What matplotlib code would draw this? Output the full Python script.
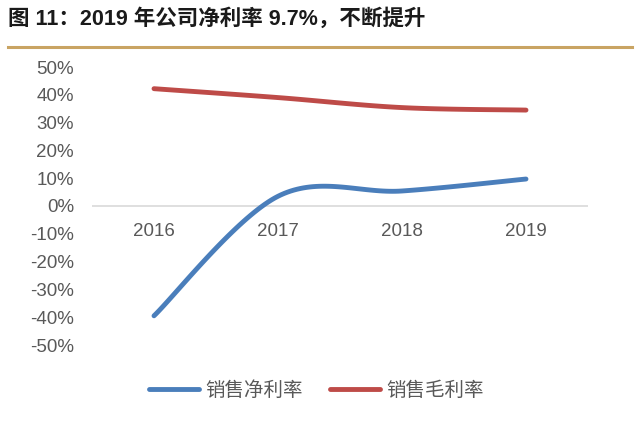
import numpy as np
import matplotlib
matplotlib.use("Agg")
import matplotlib.pyplot as plt
from matplotlib.lines import Line2D

plt.rcParams['font.family'] = ['Liberation Sans', 'Noto Sans CJK SC', 'DejaVu Sans']

years = ["2016", "2017", "2018", "2019"]
net_margin = [-39.5, 3.5, 5.4, 9.7]
gross_margin = [42.2, 39.0, 35.4, 34.5]
series_names = ["销售净利率", "销售毛利率"]
yticks = [-50, -40, -30, -20, -10, 0, 10, 20, 30, 40, 50]

blue = "#4A7EBB"
red = "#BE4B48"
gold = "#C9A463"
txt = "#595959"


def smooth(x, y, n=40):
    # excel-like smoothed line: cubic bezier with catmull-rom control points
    x = np.asarray(x, float)
    y = np.asarray(y, float)
    px, py = [], []
    for i in range(len(x) - 1):
        x0, y0 = (x[i - 1], y[i - 1]) if i > 0 else (x[i], y[i])
        x3, y3 = (x[i + 2], y[i + 2]) if i + 2 < len(x) else (x[i + 1], y[i + 1])
        c1x = x[i] + (x[i + 1] - x0) / 6
        c1y = y[i] + (y[i + 1] - y0) / 6
        c2x = x[i + 1] - (x3 - x[i]) / 6
        c2y = y[i + 1] - (y3 - y[i]) / 6
        t = np.linspace(0, 1, n)
        bx = (1 - t) ** 3 * x[i] + 3 * (1 - t) ** 2 * t * c1x + 3 * (1 - t) * t ** 2 * c2x + t ** 3 * x[i + 1]
        by = (1 - t) ** 3 * y[i] + 3 * (1 - t) ** 2 * t * c1y + 3 * (1 - t) * t ** 2 * c2y + t ** 3 * y[i + 1]
        px.extend(bx)
        py.extend(by)
    return np.array(px), np.array(py)


fig = plt.figure(figsize=(6.4, 4.26), dpi=100)
fig.text(0.013, 0.955, "图 11：2019 年公司净利率 9.7%，不断提升", fontsize=15.5,
         fontweight="bold", color="#1a1a1a", va="center", ha="left",
         family=['Liberation Sans', 'Noto Sans CJK SC'])
fig.add_artist(Line2D([0.012, 0.988], [0.889, 0.889], color=gold, lw=2.2))

ax = fig.add_axes([92 / 640, 1 - 345 / 426, 496 / 640, 278 / 426])
xs = np.arange(len(years)) + 0.5
ax.axhline(0, color="#D9D9D9", lw=1.2, zorder=1)
for vals, col in [(net_margin, blue), (gross_margin, red)]:
    sx, sy = smooth(xs, vals)
    ax.plot(sx, sy, color=col, lw=3.5, solid_capstyle="round", zorder=3)

ax.set_xlim(0, len(years))
ax.set_ylim(-50, 50)
ax.set_yticks(yticks)
ax.set_yticklabels([f"{v}%" for v in yticks], fontsize=13.5, color=txt)
ax.tick_params(axis="y", length=0, pad=13)
ax.set_xticks([])
for x, lab in zip(xs, years):
    ax.text(x, -9, lab, ha="center", va="center", fontsize=13.5, color=txt)
for s in ax.spines.values():
    s.set_visible(False)

handles = [Line2D([], [], color=blue, lw=3.5, solid_capstyle="round"),
           Line2D([], [], color=red, lw=3.5, solid_capstyle="round")]
leg = fig.legend(handles, series_names, loc="center", bbox_to_anchor=(0.494, 0.083),
                 ncol=2, frameon=False, handlelength=2.6, handletextpad=0.3,
                 columnspacing=1.4, prop={"family": ["Noto Sans CJK SC"], "size": 14})
for t in leg.get_texts():
    t.set_color(txt)

fig.savefig("out.png", dpi=100)
